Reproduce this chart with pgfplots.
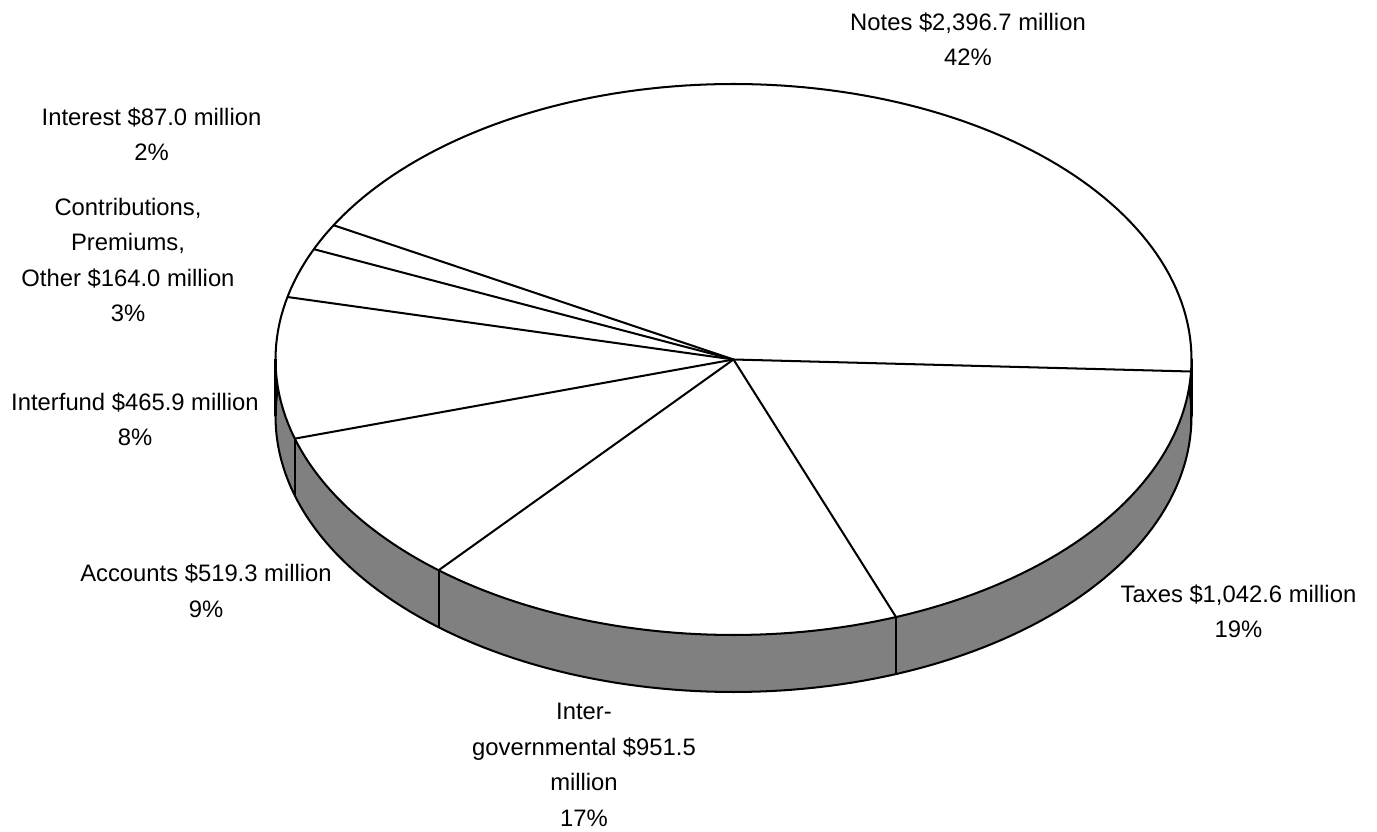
\documentclass[border=0pt]{standalone}
\usepackage{fontspec}
\setmainfont{Liberation Sans}
\usepackage{pgfplots}
\usepackage{pgfplotstable}
\pgfplotsset{compat=1.18}
\definecolor{sidegray}{RGB}{128,128,128}

\pgfplotstableread{
label value
Notes 2396.7
Interest 87.0
Contributions 164.0
Interfund 465.9
Accounts 519.3
Intergovernmental 951.5
Taxes 1042.6
}\piedata

\begin{document}
\begin{tikzpicture}
% geometry of the 3D pie (in pixel units of the reference)
\def\cx{733.5}\def\cy{359.5}\def\rx{458}\def\ry{275.5}\def\dep{57}
% total and cumulative angles from the data
\pgfmathsetmacro\tot{0}
\pgfplotsforeachungrouped \i in {0,...,6}{%
  \pgfplotstablegetelem{\i}{value}\of\piedata
  \pgfmathsetmacro\tot{\tot+\pgfplotsretval}%
}
\pgfmathsetmacro\cum{-2.5}
\expandafter\xdef\csname ang0\endcsname{\cum}
\pgfplotsforeachungrouped \i in {0,...,6}{%
  \pgfplotstablegetelem{\i}{value}\of\piedata
  \pgfmathsetmacro\cum{\cum+\pgfplotsretval/\tot*360}%
  \pgfmathtruncatemacro\j{\i+1}%
  \expandafter\xdef\csname ang\j\endcsname{\cum}%
}
\begin{axis}[
  width=578.34pt, height=349.44pt, scale only axis,
  xmin=0, xmax=1377, ymin=0, ymax=832, y dir=reverse,
  hide axis, clip=false,
  every axis plot/.append style={line width=0.85pt},
  nodes={font=\fontsize{10}{14.9}\selectfont, align=center, inner sep=0pt},
]
% side (bottom ellipse)
\addplot[draw=black, fill=sidegray, domain=0:360, samples=241, variable=\t]
  ({\cx+\rx*cos(\t)},{\cy+\dep-\ry*sin(\t)});
% top face
\addplot[draw=black, fill=white, domain=0:360, samples=241, variable=\t]
  ({\cx+\rx*cos(\t)},{\cy-\ry*sin(\t)});
% outer vertical edges
\addplot[black, domain=0:1, samples=2, variable=\t] ({\cx-\rx},{\cy+\t*\dep});
\addplot[black, domain=0:1, samples=2, variable=\t] ({\cx+\rx},{\cy+\t*\dep});
% radial slice borders
\pgfplotsinvokeforeach{0,...,6}{
  \addplot[black, domain=0:1, samples=2, variable=\t]
    ({\cx+\t*\rx*cos(\csname ang#1\endcsname)},{\cy-\t*\ry*sin(\csname ang#1\endcsname)});
}
% slice borders on the visible side
\pgfplotsinvokeforeach{4,...,7}{
  \addplot[black, domain=0:1, samples=2, variable=\t]
    ({\cx+\rx*cos(\csname ang#1\endcsname)},{\cy-\ry*sin(\csname ang#1\endcsname)+\t*\dep});
}
% labels
\node at (axis cs:968,39.5) {Notes \$2,396.7 million\\42\%};
\node at (axis cs:151.5,134.5) {Interest \$87.0 million\\2\%};
\node at (axis cs:128,260) {Contributions,\\Premiums,\\Other \$164.0 million\\3\%};
\node at (axis cs:135,419.5) {Interfund \$465.9 million\\8\%};
\node at (axis cs:206,591) {Accounts \$519.3 million\\9\%};
\node at (axis cs:1238.5,611.5) {Taxes \$1,042.6 million\\19\%};
\node at (axis cs:584,765) {Inter-\\governmental \$951.5\\million\\17\%};
\path (rel axis cs:0,0) rectangle (rel axis cs:1,1);
\end{axis}
\end{tikzpicture}
\end{document}
